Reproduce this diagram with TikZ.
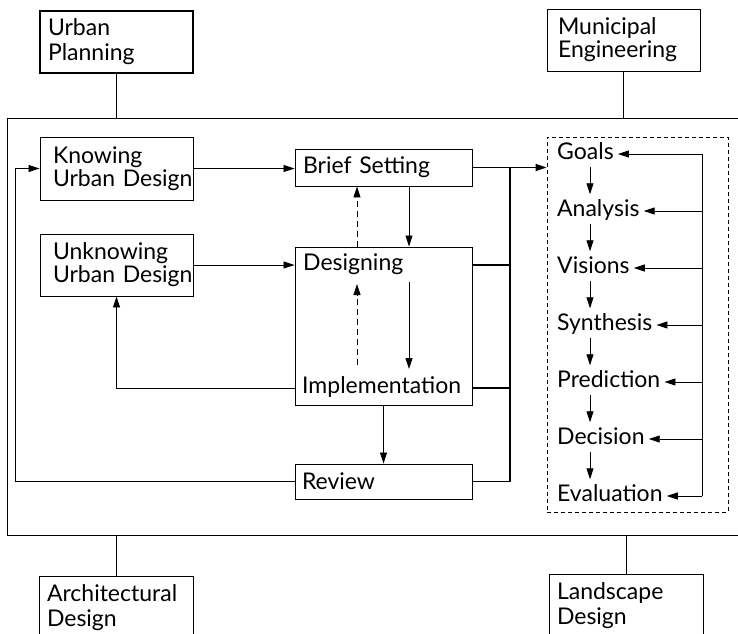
\documentclass[tikz,border=0pt]{standalone}
\usepackage{fontspec}
\setmainfont{Lato}
\usetikzlibrary{arrows.meta,calc}
\begin{document}
\begin{tikzpicture}[x=1pt,y=-1pt,
  font=\fontsize{23}{26}\selectfont,
  thin line/.style={line width=0.8pt},
  bus/.style={line width=1.6pt},
  tip/.style={-{Triangle[length=11pt,width=7pt]}},
  box/.style={draw,line width=0.9pt,align=left,inner ysep=0pt},
  stage/.style={anchor=west,inner sep=2pt,text height=16pt,text depth=5pt},
  lbl/.style={anchor=west,inner sep=0pt,text height=16pt,text depth=5pt},
]
\useasboundingbox (0,0) rectangle (738,633);
\clip (0,0) rectangle (738,633);

% outer frame
\draw[thin line] (740,118) -- (7,118) -- (7,535) -- (740,535);

% outside boxes
\node[box,line width=1.2pt,minimum width=153pt,minimum height=62pt,inner xsep=8pt,text width=137pt] (up) at (116.5,42) {Urban\\[-1pt]Planning};
\node[box,minimum width=153pt,minimum height=62pt,inner xsep=11pt,text width=131pt] (me) at (623.5,40) {Municipal\\[-3pt]Engineering};
\node[box,minimum width=154pt,minimum height=64pt,inner xsep=8pt,text width=138pt] (ad) at (116,608) {Architectural\\[-1pt]Design};
\node[box,minimum width=154pt,minimum height=64pt,inner xsep=8pt,text width=138pt] (ld) at (626,606) {Landscape\\[-1pt]Design};
\draw[thin line] (up.south) -- (up.south |- 0,118);
\draw[thin line] (me.south) -- (me.south |- 0,118);
\draw[thin line] (ad.north) -- (ad.north |- 0,535);
\draw[thin line] (ld.north) -- (ld.north |- 0,535);

% left boxes
\node[box,minimum width=153pt,minimum height=63pt,inner xsep=13pt,text width=127pt] (know) at (116.5,168.5) {Knowing\\[-3pt]\mbox{Urban Design}};
\node[box,minimum width=153pt,minimum height=62pt,inner xsep=13pt,text width=127pt] (unk) at (116.5,265) {Unknowing\\[-3pt]\mbox{Urban Design}};

% middle boxes
\node[box,minimum width=177pt,minimum height=37pt,inner xsep=8pt,text width=161pt] (brief) at (383.5,167.5) {Brief Setting};
\node[draw,line width=0.9pt,minimum width=177pt,minimum height=158pt,inner sep=0pt] (dbox) at (383.5,326) {};
\node[lbl] (des) at (303,265) {Designing};
\node[lbl] (impl) at (302,388) {Implementation};
\node[box,minimum width=177pt,minimum height=35pt,inner xsep=7pt,text width=163pt] (rev) at (383.5,481.5) {Review};

% stages box
\node[draw,dashed,dash pattern=on 4pt off 3pt,line width=0.8pt,minimum width=181pt,minimum height=375pt,inner sep=0pt] (sbox) at (637.5,324.5) {};
\node[stage] (s1) at (555,154) {Goals};
\node[stage] (s2) at (555,211) {Analysis};
\node[stage] (s3) at (555,268) {Visions};
\node[stage] (s4) at (555,325) {Synthesis};
\node[stage] (s5) at (555,382) {Prediction};
\node[stage] (s6) at (555,439) {Decision};
\node[stage] (s7) at (555,496) {Evaluation};

\coordinate (sx) at (590,0);
\coordinate (fx) at (702,0);
\coordinate (busx) at (510,0);
\coordinate (lfx) at (15,0);

\foreach \a/\b in {s1/s2,s2/s3,s3/s4,s4/s5,s5/s6,s6/s7}
  \draw[thin line,tip,shorten >=4pt] (\a.south -| sx) -- (\b.north -| sx);
\draw[thin line] (s1.east -| fx) -- (s7.east -| fx);
\foreach \s in {s1,s2,s3,s4,s5,s6,s7}
  \draw[thin line,tip,shorten >=2pt] (\s.east -| fx) -- (\s.east);

% arrows left part
\draw[thin line,tip] (know.east) -- (know.east -| brief.west);
\draw[thin line,tip] (unk.east) -- (unk.east -| dbox.west);
\draw[thin line,tip] ([xshift=25.5pt]brief.south) -- ([xshift=25.5pt]brief.south |- dbox.north);
\draw[thin line,dashed,dash pattern=on 6pt off 4pt,tip] ([xshift=-26.5pt]dbox.north) -- ([xshift=-26.5pt]brief.south);
\coordinate (da) at (357,365);
\coordinate (db) at (357,284);
\coordinate (sa) at (409,282);
\coordinate (sb) at (409,369);
\draw[thin line,dashed,dash pattern=on 6pt off 4pt,tip] (da) -- (db);
\draw[thin line,tip] (sa) -- (sb);
\draw[thin line,tip] (dbox.south) -- (rev.north);
\draw[thin line,tip] (dbox.west |- impl.west) -| (unk.south);
\draw[thin line,tip] (rev.west) -- (rev.west -| lfx) |- (know.west);

% bus to stages
\draw[bus,tip] (brief.east) -- (brief.east -| sbox.west);
\draw[bus] (rev.east) -| (brief.east -| busx);
\draw[bus] (dbox.east |- des.west) -- (des.west -| busx);
\draw[bus] (dbox.east |- impl.west) -- (impl.west -| busx);
\end{tikzpicture}
\end{document}
